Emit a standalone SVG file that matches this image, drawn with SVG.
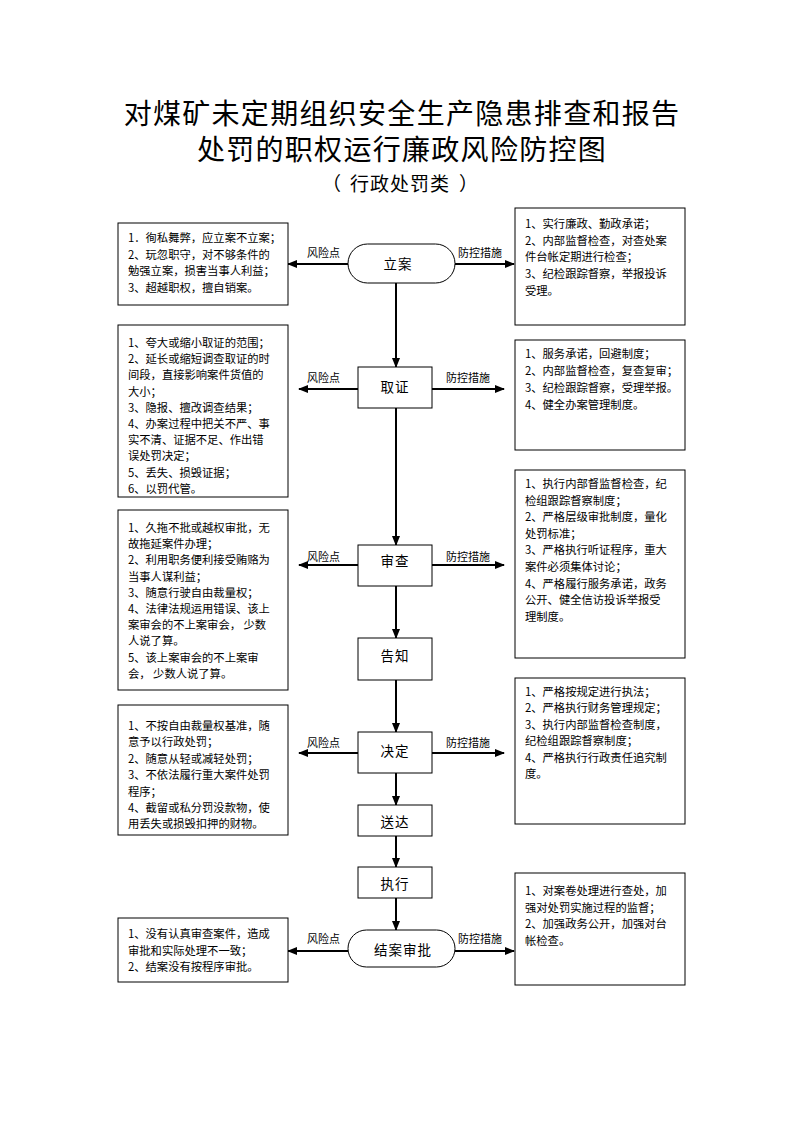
<svg xmlns="http://www.w3.org/2000/svg" width="794" height="1123" viewBox="0 0 794 1123">
<style>
.t{font-family:"Noto Sans CJK SC","Noto Sans",sans-serif;fill:#000}
.title{font-size:28px;letter-spacing:1.3px;text-anchor:middle}
.sub{font-size:19px}
.box{fill:#fff;stroke:#000;stroke-width:1}
.node{fill:#fff;stroke:#000;stroke-width:1}
.nl{font-size:13.5px;text-anchor:middle;letter-spacing:1px}
.bt{font-size:11.3px}
.lab{font-size:11px}
.c{fill:none;stroke:#000;stroke-width:2}
</style>
<defs>
<marker id="ah" markerUnits="userSpaceOnUse" markerWidth="10" markerHeight="8" refX="9" refY="4" orient="auto">
<path d="M0,0 L10,4 L0,8 z" fill="#000"/>
</marker>
</defs>
<rect width="794" height="1123" fill="#fff"/>
<g id="title" class="t">
<text class="title" x="402" y="124"><tspan x="402">对煤矿未定期组织安全生产隐患排查和报告</tspan><tspan x="402" dy="36">处罚的职权运行廉政风险防控图</tspan></text>
<text class="sub" y="191"><tspan x="322">（</tspan><tspan x="350" letter-spacing="1">行政处罚类</tspan><tspan x="459">）</tspan></text>
</g>
<g id="connectors">
<line class="c" x1="396" y1="283" x2="396" y2="367" marker-end="url(#ah)"/>
<line class="c" x1="396" y1="408" x2="396" y2="545" marker-end="url(#ah)"/>
<line class="c" x1="396" y1="586" x2="396" y2="638" marker-end="url(#ah)"/>
<line class="c" x1="396" y1="680" x2="396" y2="732" marker-end="url(#ah)"/>
<line class="c" x1="396" y1="773" x2="396" y2="805" marker-end="url(#ah)"/>
<line class="c" x1="396" y1="836" x2="396" y2="867" marker-end="url(#ah)"/>
<line class="c" x1="396" y1="898" x2="396" y2="930" marker-end="url(#ah)"/>
<line class="c" x1="348" y1="264" x2="288" y2="264" marker-end="url(#ah)"/>
<line class="c" x1="455" y1="264" x2="514" y2="264" marker-end="url(#ah)"/>
<line class="c" x1="358" y1="389" x2="299" y2="389" marker-end="url(#ah)"/>
<line class="c" x1="432" y1="389" x2="504" y2="389" marker-end="url(#ah)"/>
<line class="c" x1="358" y1="565" x2="299" y2="565" marker-end="url(#ah)"/>
<line class="c" x1="432" y1="565" x2="504" y2="565" marker-end="url(#ah)"/>
<line class="c" x1="358" y1="753" x2="299" y2="753" marker-end="url(#ah)"/>
<line class="c" x1="432" y1="753" x2="504" y2="753" marker-end="url(#ah)"/>
<line class="c" x1="348" y1="951" x2="288" y2="951" marker-end="url(#ah)"/>
<line class="c" x1="455" y1="951" x2="514" y2="951" marker-end="url(#ah)"/>
<g class="t lab">
<text x="307" y="257">风险点</text><text x="458" y="257">防控措施</text>
<text x="307" y="382">风险点</text><text x="446" y="382">防控措施</text>
<text x="307" y="561">风险点</text><text x="446" y="561">防控措施</text>
<text x="307" y="747">风险点</text><text x="446" y="747">防控措施</text>
<text x="307" y="943">风险点</text><text x="458" y="943">防控措施</text>
</g>
</g>
<g id="n-lian">
<rect class="node" x="348" y="244" width="107" height="39" rx="19.5" ry="19.5"/>
<text class="t nl" x="398" y="269">立案</text>
</g>
<g id="n-quzheng">
<rect class="node" x="358" y="367" width="74" height="41"/>
<text class="t nl" x="395" y="392">取证</text>
</g>
<g id="n-shencha">
<rect class="node" x="358" y="545" width="74" height="41"/>
<text class="t nl" x="395" y="566">审查</text>
</g>
<g id="n-gaozhi">
<rect class="node" x="358" y="638" width="74" height="42"/>
<text class="t nl" x="395" y="661">告知</text>
</g>
<g id="n-jueding">
<rect class="node" x="358" y="732" width="74" height="41"/>
<text class="t nl" x="395" y="756">决定</text>
</g>
<g id="n-songda">
<rect class="node" x="358" y="805" width="74" height="31"/>
<text class="t nl" x="395" y="827">送达</text>
</g>
<g id="n-zhixing">
<rect class="node" x="358" y="867" width="74" height="31"/>
<text class="t nl" x="395" y="889">执行</text>
</g>
<g id="n-jiean">
<rect class="node" x="348" y="930" width="107" height="37" rx="18.5" ry="18.5"/>
<text class="t nl" x="403" y="955">结案审批</text>
</g>
<g id="risk-1">
<rect class="box" x="118" y="223" width="170" height="82"/>
<text class="t bt" x="128" y="242"><tspan x="128">1．徇私舞弊，应立案不立案；</tspan><tspan x="128" dy="16.7">2、玩忽职守，对不够条件的</tspan><tspan x="128" dy="16.7">勉强立案，损害当事人利益；</tspan><tspan x="128" dy="16.7">3、超越职权，擅自销案。</tspan></text>
</g>
<g id="risk-2">
<rect class="box" x="118" y="325" width="170" height="172"/>
<text class="t bt" x="128" y="347"><tspan x="128">1、夸大或缩小取证的范围；</tspan><tspan x="128" dy="16.2">2、延长或缩短调查取证的时</tspan><tspan x="128" dy="16.2">间段，直接影响案件货值的</tspan><tspan x="128" dy="16.2">大小；</tspan><tspan x="128" dy="16.2">3、隐报、擅改调查结果；</tspan><tspan x="128" dy="16.2">4、办案过程中把关不严、事</tspan><tspan x="128" dy="16.2">实不清、证据不足、作出错</tspan><tspan x="128" dy="16.2">误处罚决定；</tspan><tspan x="128" dy="16.2">5、丢失、损毁证据；</tspan><tspan x="128" dy="16.2">6、以罚代管。</tspan></text>
</g>
<g id="risk-3">
<rect class="box" x="118" y="510" width="170" height="180"/>
<text class="t bt" x="128" y="532"><tspan x="128">1、久拖不批或越权审批，无</tspan><tspan x="128" dy="16.2">故拖延案件办理；</tspan><tspan x="128" dy="16.2">2、利用职务便利接受贿赂为</tspan><tspan x="128" dy="16.2">当事人谋利益；</tspan><tspan x="128" dy="16.2">3、随意行驶自由裁量权；</tspan><tspan x="128" dy="16.2">4、法律法规运用错误、该上</tspan><tspan x="128" dy="16.2">案审会的不上案审会， 少数</tspan><tspan x="128" dy="16.2">人说了算。</tspan><tspan x="128" dy="16.2">5、该上案审会的不上案审</tspan><tspan x="128" dy="16.2">会， 少数人说了算。</tspan></text>
</g>
<g id="risk-4">
<rect class="box" x="118" y="705" width="170" height="130"/>
<text class="t bt" x="128" y="730"><tspan x="128">1、不按自由裁量权基准，随</tspan><tspan x="128" dy="16.4">意予以行政处罚；</tspan><tspan x="128" dy="16.4">2、随意从轻或减轻处罚；</tspan><tspan x="128" dy="16.4">3、不依法履行重大案件处罚</tspan><tspan x="128" dy="16.4">程序；</tspan><tspan x="128" dy="16.4">4、截留或私分罚没款物，使</tspan><tspan x="128" dy="16.4">用丢失或损毁扣押的财物。</tspan></text>
</g>
<g id="risk-5">
<rect class="box" x="118" y="918" width="170" height="64"/>
<text class="t bt" x="128" y="938"><tspan x="128">1、没有认真审查案件，造成</tspan><tspan x="128" dy="16.7">审批和实际处理不一致；</tspan><tspan x="128" dy="16.7">2、结案没有按程序审批。</tspan></text>
</g>
<g id="ctrl-1">
<rect class="box" x="515" y="208" width="170" height="117"/>
<text class="t bt" x="525" y="228"><tspan x="525">1、实行廉政、勤政承诺；</tspan><tspan x="525" dy="16.7">2、内部监督检查，对查处案</tspan><tspan x="525" dy="16.7">件台帐定期进行检查；</tspan><tspan x="525" dy="16.7">3、纪检跟踪督察，举报投诉</tspan><tspan x="525" dy="16.7">受理。</tspan></text>
</g>
<g id="ctrl-2">
<rect class="box" x="515" y="340" width="170" height="110"/>
<text class="t bt" x="525" y="358"><tspan x="525">1、服务承诺，回避制度；</tspan><tspan x="525" dy="16.9">2、内部监督检查，复查复审；</tspan><tspan x="525" dy="16.9">3、纪检跟踪督察，受理举报。</tspan><tspan x="525" dy="16.9">4、健全办案管理制度。</tspan></text>
</g>
<g id="ctrl-3">
<rect class="box" x="515" y="470" width="170" height="188"/>
<text class="t bt" x="525" y="488"><tspan x="525">1、执行内部督监督检查，纪</tspan><tspan x="525" dy="16.6">检组跟踪督察制度；</tspan><tspan x="525" dy="16.6">2、严格层级审批制度，量化</tspan><tspan x="525" dy="16.6">处罚标准；</tspan><tspan x="525" dy="16.6">3、严格执行听证程序，重大</tspan><tspan x="525" dy="16.6">案件必须集体讨论；</tspan><tspan x="525" dy="16.6">4、严格履行服务承诺，政务</tspan><tspan x="525" dy="16.6">公开、健全信访投诉举报受</tspan><tspan x="525" dy="16.6">理制度。</tspan></text>
</g>
<g id="ctrl-4">
<rect class="box" x="515" y="678" width="170" height="146"/>
<text class="t bt" x="525" y="696"><tspan x="525">1、严格按规定进行执法；</tspan><tspan x="525" dy="16.4">2、严格执行财务管理规定；</tspan><tspan x="525" dy="16.4">3、执行内部监督检查制度，</tspan><tspan x="525" dy="16.4">纪检组跟踪督察制度；</tspan><tspan x="525" dy="16.4">4、严格执行行政责任追究制</tspan><tspan x="525" dy="16.4">度。</tspan></text>
</g>
<g id="ctrl-5">
<rect class="box" x="515" y="873" width="170" height="112"/>
<text class="t bt" x="525" y="895"><tspan x="525">1、对案卷处理进行查处，加</tspan><tspan x="525" dy="16.5">强对处罚实施过程的监督；</tspan><tspan x="525" dy="16.5">2、加强政务公开，加强对台</tspan><tspan x="525" dy="16.5">帐检查。</tspan></text>
</g>
</svg>
